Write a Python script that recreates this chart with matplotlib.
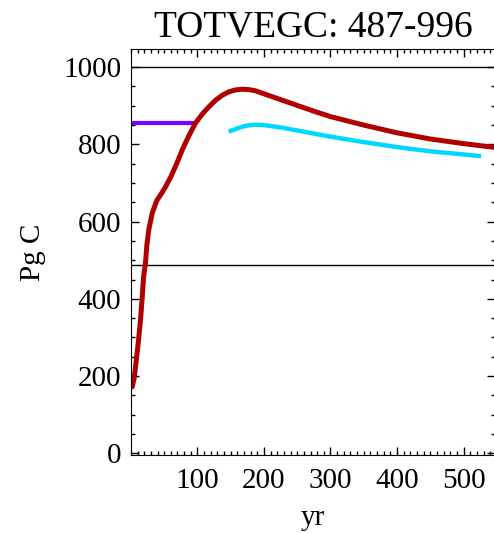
import numpy as np
import matplotlib.pyplot as plt
from matplotlib.ticker import MultipleLocator

# values
red_yr = [2, 5, 8, 11, 14, 17, 19, 22, 24, 27, 32, 39, 46, 52, 60, 68, 77, 87, 97, 107,
          117, 127, 137, 147, 157, 167, 177, 187, 200, 225, 250, 275, 300, 350, 400, 450, 500, 548]
red_c = [172, 195, 240, 285, 337, 404, 456, 495, 540, 580, 622, 655, 673, 690, 716, 747, 785, 822,
         855, 878, 897, 914, 927, 936, 941, 943, 942, 939, 931, 916, 901, 886, 872, 850, 830, 814,
         802, 792]

cyan_yr = [150, 158, 166, 175, 187, 200, 225, 250, 300, 350, 400, 450, 500, 523]
cyan_c = [835, 840, 845, 849, 851, 850, 844, 836, 820, 806, 793, 782, 774, 770]

purple_yr = [0, 97]
purple_c = [855, 855]

ref_lines = [1000, 487]

plt.rcParams['font.family'] = ['Liberation Serif', 'DejaVu Serif']

fig = plt.figure(figsize=(4.94, 5.33), dpi=100)
ax = fig.add_axes([0.265, 0.146, 0.738, 0.762])

for y in ref_lines:
    ax.axhline(y, color='black', linewidth=1.0)

ax.plot(purple_yr, purple_c, color='#7f00ff', linewidth=3.0)
ax.plot(cyan_yr, cyan_c, color='#00d8ff', linewidth=3.2)
ax.plot(red_yr, red_c, color='#b00000', linewidth=3.6, solid_capstyle='round')

ax.set_xlim(0, 548)
ax.set_ylim(-5, 1047)
ax.set_xticks([100, 200, 300, 400, 500])
ax.set_yticks([0, 200, 400, 600, 800, 1000])
ax.xaxis.set_minor_locator(MultipleLocator(10))
ax.yaxis.set_minor_locator(MultipleLocator(50))
ax.tick_params(which='both', direction='in', top=True, right=True, labelsize=21, pad=7)
ax.tick_params(axis='x', which='both', pad=9)
ax.tick_params(which='major', length=6, width=1)
ax.tick_params(which='minor', length=3, width=1)

ax.set_title('TOTVEGC: 487-996', fontsize=27, pad=9)
ax.set_xlabel('yr', fontsize=21, labelpad=8)
ax.set_ylabel('Pg C', fontsize=21, labelpad=12)

fig.savefig('out.png', dpi=100)
